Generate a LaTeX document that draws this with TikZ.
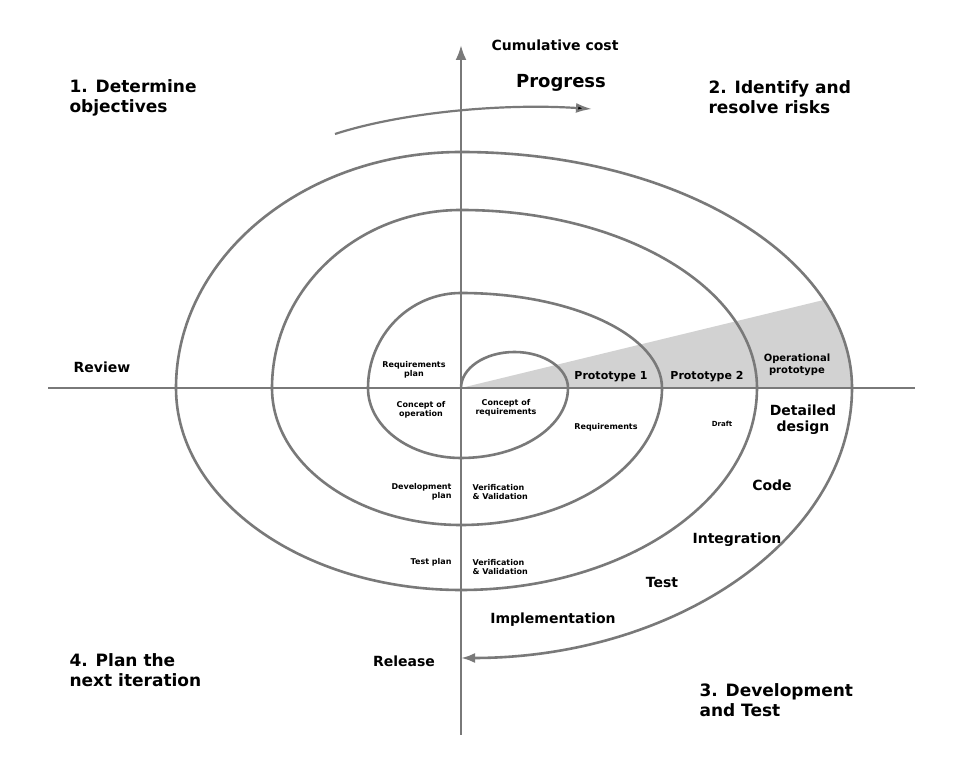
\documentclass[tikz,border=0pt]{standalone}
\usepackage{fontspec}
\setmainfont{DejaVu Sans}
\usetikzlibrary{arrows.meta,calc}
\begin{document}
\begin{tikzpicture}[x=1pt,y=1pt,
  ax/.style={draw=gray!95!black,line width=2.6pt},
  sp/.style={draw=gray!95!black,line width=2.6pt},
  big/.style={font=\bfseries\fontsize{17}{20}\selectfont,align=left},
  mid/.style={font=\bfseries\fontsize{12.5}{15}\selectfont,align=center},
  sm/.style={font=\bfseries\fontsize{8}{9.5}\selectfont,align=center},
  tip/.style={-{Latex[length=13pt,width=10pt]}}]
\useasboundingbox (0,0) rectangle (970,768);
\fill[white] (0,0) rectangle (970,768);
\coordinate (O) at (461,380);
% shaded wedge
\fill[gray!35] (O) -- ($(O)+(21.9:391 and 236)$) arc[start angle=21.9,end angle=0,x radius=391,y radius=236] -- cycle;
% axes
\coordinate (xl) at (48,380); \coordinate (xr) at (915,380);
\coordinate (yb) at (461,33); \coordinate (yt) at (461,723);
\draw[ax] (xl) -- (xr);
\draw[ax,tip,-{Latex[length=15pt,width=11pt]}] (yb) -- (yt);
% spiral
\draw[sp,line join=round,-{Latex[length=14pt,width=10pt]}] (O)
  arc[start angle=180,end angle=0,x radius=53.5,y radius=36]
  arc[start angle=0,end angle=-90,x radius=107,y radius=70]
  arc[start angle=-90,end angle=-180,x radius=93,y radius=70]
  arc[start angle=180,end angle=90,x radius=93,y radius=95]
  arc[start angle=90,end angle=0,x radius=201,y radius=95]
  arc[start angle=0,end angle=-90,x radius=201,y radius=137]
  arc[start angle=-90,end angle=-180,x radius=189,y radius=137]
  arc[start angle=180,end angle=90,x radius=189,y radius=178]
  arc[start angle=90,end angle=0,x radius=296,y radius=178]
  arc[start angle=0,end angle=-90,x radius=296,y radius=202]
  arc[start angle=-90,end angle=-180,x radius=285,y radius=202]
  arc[start angle=180,end angle=90,x radius=285,y radius=236]
  arc[start angle=90,end angle=0,x radius=391,y radius=236]
  arc[start angle=0,end angle=-90,x radius=391,y radius=270];
% progress arrow
\coordinate (pa) at (335,634); \coordinate (pb) at (592,659);
\draw[draw=gray!95!black,line width=2.2pt,-{Latex[length=16pt,width=10pt,fill=black]}] (pa) .. controls (400,655) and (500,665) .. (pb);
% labels
\node[font=\bfseries\fontsize{14}{16}\selectfont] (cc) at (555,723) {Cumulative cost};
\node[font=\bfseries\fontsize{18}{20}\selectfont] (pr) at (561,685) {Progress};
\node[big,anchor=west] (q1) at (66,670) {1. Determine\\objectives};
\node[big,anchor=west] (q2) at (705,671) {2. Identify and\\resolve risks};
\node[big,anchor=west] (q4) at (66,98) {4. Plan the\\next iteration};
\node[big,anchor=west] (q3) at (696,68) {3. Development\\and Test};
\node[mid,font=\bfseries\fontsize{14}{16}\selectfont] (rv) at (102,401) {Review};
\node[mid,font=\bfseries\fontsize{14}{16}\selectfont] (rl) at (404,107) {Release};
\node[mid,font=\bfseries\fontsize{14}{16}\selectfont] (im) at (553,148) {Implementation};
\node[mid,font=\bfseries\fontsize{14}{16}\selectfont] (te) at (662,185) {Test};
\node[mid,font=\bfseries\fontsize{14}{16}\selectfont] (ig) at (737,228) {Integration};
\node[mid,font=\bfseries\fontsize{14}{16}\selectfont] (co) at (772,283) {Code};
\node[mid,font=\bfseries\fontsize{14}{16}\selectfont] (dd) at (803,348) {Detailed\\design};
\node[sm,font=\bfseries\fontsize{10}{12}\selectfont] (op) at (797,403) {Operational\\prototype};
\node[sm,font=\bfseries\fontsize{11}{13}\selectfont] (p2) at (707,391) {Prototype 2};
\node[sm,font=\bfseries\fontsize{11}{13}\selectfont] (p1) at (611,391) {Prototype 1};
\node[sm,font=\bfseries\fontsize{7}{8}\selectfont] (dr) at (722,344) {Draft};
\node[sm] (rq) at (606,341) {Requirements};
\node[sm] (cr) at (506,360) {Concept of\\requirements};
\node[sm] (cp) at (421,358) {Concept of\\operation};
\node[sm] (rp) at (414,398) {Requirements\\plan};
\node[sm,anchor=east,align=right] (dp) at (455,276) {Development\\plan};
\node[sm,anchor=west,align=left] (vv1) at (469,276) {Verification\\\& Validation};
\node[sm,anchor=east,align=right] (tp) at (455,206) {Test plan};
\node[sm,anchor=west,align=left] (vv2) at (469,201) {Verification\\\& Validation};
\end{tikzpicture}
\end{document}
